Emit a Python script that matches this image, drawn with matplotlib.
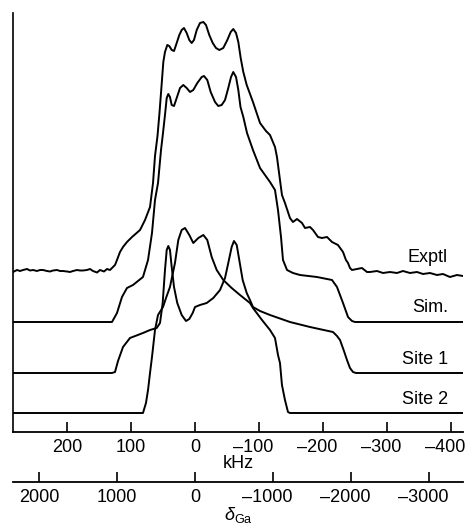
import numpy as np
import matplotlib
matplotlib.use("Agg")
import matplotlib.pyplot as plt
import matplotlib.transforms as mtransforms

plt.rcParams['font.family'] = ['Liberation Sans', 'DejaVu Sans']
plt.rcParams['mathtext.fontset'] = 'custom'
plt.rcParams['mathtext.rm'] = 'Liberation Sans'
plt.rcParams['mathtext.it'] = 'Liberation Sans:italic'

# frequency (kHz) and intensity above each trace's own baseline
exptl_khz = [284.4, 278.1, 273.4, 268.8, 262.5, 257.8, 253.1, 246.9, 242.2, 237.5,
             231.3, 226.6, 221.9, 215.6, 210.9, 206.3, 200.0, 195.3, 190.6, 184.4,
             179.7, 175.0, 168.8, 164.1, 159.4, 153.1, 148.4, 142.2, 137.5, 132.8,
             129.7, 125.0, 121.9, 117.2, 112.5, 106.3, 98.4, 85.9, 78.1, 70.3,
             65.6, 62.5, 58.6, 55.5, 52.3, 49.5, 46.9, 43.3, 40.2, 36.4,
             32.8, 28.6, 24.5, 20.8, 17.2, 13.0, 8.9, 5.2, 1.6, -2.7,
             -7.8, -13.0, -17.2, -22.3, -27.7, -32.8, -38.0, -44.2, -50.5, -55.8,
             -59.8, -64.1, -67.7, -71.4, -75.5, -80.8, -90.6, -101.6, -110.9, -117.2,
             -125.0, -128.1, -132.8, -135.9, -140.6, -148.4, -153.1, -159.4, -167.2, -171.9,
             -179.7, -184.4, -192.2, -198.4, -206.3, -214.1, -223.4, -231.3, -235.9, -239.1,
             -242.2, -245.3, -253.1, -260.9, -268.8, -273.4, -284.4, -293.8, -304.7, -315.6,
             -325.0, -335.9, -346.9, -356.3, -367.2, -378.1, -387.5, -398.4, -409.4, -418.8]
exptl_int = [-1, 1, 0, 1, 2, 0.5, 1, 0, 1, 1,
             0, -0.5, 0.5, 1, 0, 0, -0.5, -1, 0, 1,
             0.5, 0.5, 1, 2, 0, -1.5, 1, -0.5, 2, 1,
             3, 6, 11, 19, 24, 29, 34, 41, 51, 64,
             88, 115, 135, 158, 185, 209, 219, 226, 225, 221,
             220, 228, 236, 241, 243, 238, 231, 228, 231, 241,
             248, 249, 246, 236, 228, 223, 221, 223, 231, 239,
             242, 238, 229, 213, 199, 186, 169, 148, 140, 136,
             124, 114, 91, 76, 68, 53, 49, 52, 48, 43,
             44, 41, 34, 33, 34, 29, 26, 19, 11, 8,
             3, 1, 2, 3, -1, -1, 0, -2, -1, -2,
             0, -2, -1, -3, -2, -4, -3, -6, -4, -5]

sim_khz = [284.4, 129.7, 121.9, 114.1, 106.3, 96.9, 81.3, 73.4, 67.2, 62.5,
           57.8, 53.1, 50.0, 46.9, 44.2, 41.7, 39.1, 36.4, 32.8, 28.6,
           23.4, 18.3, 13.0, 7.8, 2.7, -3.6, -10.5, -14.1, -19.2, -24.5,
           -31.3, -36.4, -41.7, -46.9, -52.0, -56.3, -59.8, -64.1, -67.7, -71.1,
           -75.5, -81.3, -90.6, -101.6, -117.2, -125.0, -129.7, -134.4, -137.5, -143.8,
           -153.1, -164.1, -190.6, -214.1, -221.9, -231.3, -239.1, -245.3, -250.0, -418.8]
sim_int = [0, 0, 9, 25, 34, 37, 45, 62, 89, 122,
           139, 172, 189, 207, 224, 228, 225, 217, 216, 224,
           234, 237, 234, 230, 232, 239, 245, 246, 242, 230,
           220, 216, 217, 222, 234, 245, 250, 245, 232, 215,
           205, 189, 172, 154, 140, 132, 112, 85, 62, 52,
           49, 47, 45, 42, 35, 19, 5, 1, 0, 0]

site1_khz = [284.4, 129.7, 125.0, 120.3, 112.5, 101.6, 81.3, 70.3, 59.8, 54.7,
             50.5, 46.9, 44.2, 41.7, 39.1, 36.4, 32.8, 27.7, 20.8, 14.1,
             8.9, 3.6, 0.0, -7.8, -18.3, -28.6, -39.1, -46.9, -52.0, -57.3,
             -60.9, -65.2, -69.2, -74.5, -80.8, -85.9, -90.6, -101.6, -117.2, -148.4,
             -179.7, -215.6, -221.9, -226.6, -232.8, -237.5, -242.2, -246.9, -251.6, -418.8]
site1_int = [0, 0, 1, 12, 26, 35, 40, 43, 45, 50,
             70, 103, 123, 127, 123, 106, 86, 70, 58, 52,
             54, 60, 66, 68, 70, 75, 83, 95, 110, 126,
             132, 128, 113, 93, 80, 73, 66, 62, 58, 51,
             46, 41, 37, 33, 22, 13, 5, 1, 0, 0]

site2_khz = [284.4, 81.3, 76.6, 73.4, 70.3, 67.2, 62.5, 57.8, 50.0, 45.3,
             39.1, 31.3, 26.1, 20.8, 15.6, 8.9, 2.7, -5.2, -13.0, -19.2,
             -26.1, -33.9, -44.2, -57.3, -70.3, -85.9, -90.6, -104.7, -117.2, -125.0,
             -129.7, -132.8, -135.9, -140.6, -145.3, -148.4, -418.8]
site2_int = [0, 0, 10, 23, 40, 56, 83, 98, 106, 115,
             126, 150, 173, 183, 185, 178, 170, 175, 178, 173,
             156, 143, 133, 125, 118, 110, 105, 93, 83, 75,
             58, 50, 28, 13, 1, 0, 0]

names = ["Exptl", "Sim.", "Site 1", "Site 2"]
offsets = [161, 110, 59, 19]
traces = [(exptl_khz, exptl_int), (sim_khz, sim_int),
          (site1_khz, site1_int), (site2_khz, site2_int)]

khz_ticks = [200, 100, 0, -100, -200, -300, -400]
khz_labels = ['200', '100', '0', '\u2013100', '\u2013200', '\u2013300', '\u2013400']
ppm_ticks = [2000, 1000, 0, -1000, -2000, -3000]
ppm_labels = ['2000', '1000', '0', '\u20131000', '\u20132000', '\u20133000']
larmor_mhz = 122.0

fig = plt.figure(figsize=(4.69, 5.25), dpi=100)
ax = fig.add_axes([13 / 469, 93 / 525, 450 / 469, 419 / 525])

for (k, s), off, name in zip(traces, offsets, names):
    ax.plot(k, np.array(s) + off, color='black', lw=1.4,
            solid_joinstyle='round', solid_capstyle='round')
    ax.text(-395, off + 14, name, ha='right', va='center', fontsize=13)

ax.set_xlim(284.4, -418.8)
ax.set_ylim(0, 419)
ax.spines['top'].set_visible(False)
ax.spines['right'].set_visible(False)
ax.spines['left'].set_linewidth(1.2)
ax.spines['bottom'].set_linewidth(1.3)
ax.set_yticks([])
ax.set_xticks(khz_ticks, khz_labels)
ax.tick_params(axis='x', direction='in', length=7, width=1.2, pad=5, labelsize=13)
ax.set_xlabel('kHz', fontsize=13, labelpad=-1)

sec = ax.secondary_xaxis(-50 / 419, functions=(lambda k: k * 1000 / larmor_mhz,
                                               lambda p: p * larmor_mhz / 1000))
sec.set_xticks(ppm_ticks, ppm_labels)
sec.tick_params(axis='x', direction='in', length=7, width=1.2, pad=5, labelsize=13)
sec.spines['bottom'].set_linewidth(1.3)
sec.spines['top'].set_linewidth(1.3)
sec.set_xlabel(r'$\delta_{\rm Ga}$', fontsize=13, labelpad=-1)

# the digits sit over the tick, the dash hangs to the left
shift = mtransforms.ScaledTranslation(-6 / 100, 0, fig.dpi_scale_trans)
for axis in (ax.xaxis, sec.xaxis):
    for lab in axis.get_ticklabels():
        if lab.get_text().startswith('\u2013'):
            lab.set_transform(lab.get_transform() + shift)

fig.savefig('out.png', dpi=100)
